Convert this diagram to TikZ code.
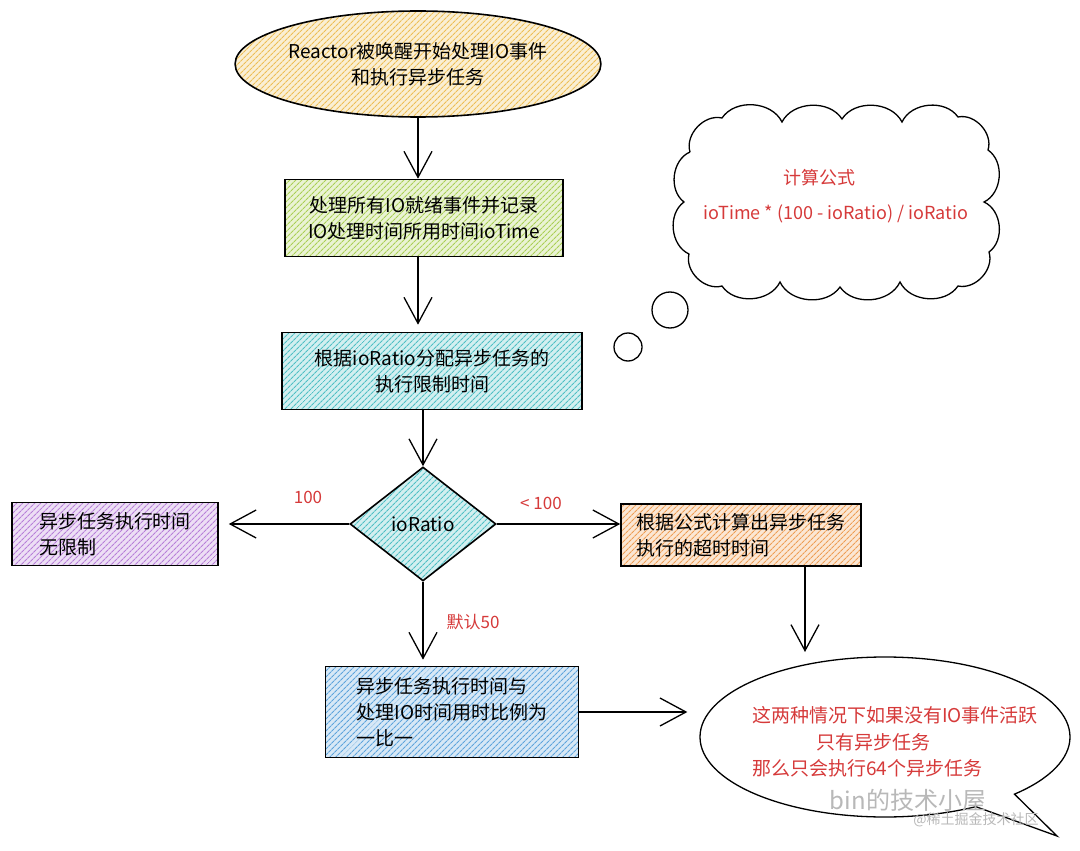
\documentclass[tikz,border=0pt]{standalone}
\usepackage{fontspec}
\setmainfont{Noto Sans CJK SC}
\usepackage{xcolor}
\usetikzlibrary{shapes.geometric}
\usetikzlibrary{shapes.callouts}
\usetikzlibrary{positioning}
\usetikzlibrary{arrows.meta}
\usetikzlibrary{patterns.meta}

\definecolor{hyellow}{HTML}{EDBE55}
\definecolor{hgreen}{HTML}{AACF55}
\definecolor{hteal}{HTML}{4FBFC4}
\definecolor{hpurple}{HTML}{B77FD8}
\definecolor{horange}{HTML}{EE9E55}
\definecolor{hblue}{HTML}{5EA4DC}
\definecolor{notered}{HTML}{D63A3A}

\tikzset{
	hatched/.style = {draw = black, line width = 1.6pt, preaction = {fill = #1!25}, pattern = {Lines[angle = 45, distance = 4pt, line width = 1.2pt]}, pattern color = #1},
	flow/.style = {line width = 1.3pt, -{Straight Barb[length = 26pt, width = 28pt, line width = 1.3pt]}},
	note/.style = {text = notered, font = \fontsize{17}{22}\selectfont},
	body/.style = {font = \fontsize{19}{26}\selectfont}
}

\begin{document}
\begin{tikzpicture}[x = 1pt, y = -1pt]
		\fill [white] (0, 0) rectangle (1080, 851);
		\useasboundingbox (0, 0) rectangle (1080, 851);

		% main flow
		\node [hatched = hyellow, ellipse, body, align = center, minimum width = 314pt, minimum height = 106pt, inner sep = 0] (wake) at (418, 64) {Reactor被唤醒开始处理IO事件\\和执行异步任务};
		\node [hatched = hgreen, rectangle, body, align = center, minimum width = 278pt, minimum height = 77pt] (ioready) at (424, 218) {处理所有IO就绪事件并记录\\IO处理时间所用时间ioTime};
		\node [hatched = hteal, rectangle, body, align = center, minimum width = 300pt, minimum height = 77pt] (budget) at (432, 371) {根据ioRatio分配异步任务的\\执行限制时间};
		\node [hatched = hteal, diamond, body, minimum width = 146pt, minimum height = 114pt, inner sep = 0] (ratio) at (423, 524) {ioRatio};

		% branches
		\node [hatched = hpurple, rectangle, body, align = left, minimum width = 206pt, minimum height = 63pt] (nolimit) at (115, 534) {异步任务执行时间\\无限制};
		\node [hatched = horange, rectangle, body, align = left, minimum width = 240pt, minimum height = 62pt] (timeout) at (741, 535) {根据公式计算出异步任务\\执行的超时时间};
		\node [hatched = hblue, rectangle, body, align = left, minimum width = 253pt, minimum height = 91pt] (share) at (452, 712) {异步任务执行时间与\\处理IO时间用时比例为\\一比一};

		% thought cloud
		\draw [line width = 1.3pt] (690, 152) to[bend left = 60] (722, 118) to[bend left = 60] (782, 122) to[bend left = 60] (842, 119)
			to[bend left = 60] (902, 122) to[bend left = 60] (958, 117) to[bend left = 60] (988, 150) to[bend left = 60] (984, 202)
			to[bend left = 60] (989, 252) to[bend left = 60] (958, 286) to[bend left = 60] (900, 282) to[bend left = 60] (840, 287)
			to[bend left = 60] (780, 282) to[bend left = 60] (722, 286) to[bend left = 60] (689, 254) to[bend left = 60] (684, 202)
			to[bend left = 60] (690, 152);
		\node [note, align = center, font = \fontsize{18}{35}\selectfont] (formula) at (836, 196) {计算公式\hspace*{34pt}\\ioTime * (100 - ioRatio) / ioRatio};
		\node [circle, draw, line width = 1.3pt, minimum size = 36pt] (puff1) at (670, 310) {};
		\node [circle, draw, line width = 1.3pt, minimum size = 28pt] (puff2) at (628, 347) {};

		% speech bubble
		\node [ellipse callout, draw, line width = 1.3pt, minimum width = 370pt, minimum height = 160pt, callout absolute pointer = {(1057, 836)}] (result) at (885, 737) {};
		\node [note, align = left, font = \fontsize{19}{26.5}\selectfont] (resultt) at (895, 742) {这两种情况下如果没有IO事件活跃\\\hspace*{64pt}只有异步任务\\那么只会执行64个异步任务};

		% labels
		\node [note] (full) at (308, 497) {100};
		\node [note] (less) at (541, 503) {< 100};
		\node [note] (default) at (473, 622) {默认50};

		% watermark
		\node [text = black!28, font = \fontsize{24}{24}\selectfont] (mark) at (908, 800) {bin的技术小屋};
		\node [text = black!28, font = \fontsize{14}{14}\selectfont] (site) at (976, 820) {@稀土掘金技术社区};

		% connectors
		\coordinate (hit) at (805, 652);
		\draw [flow] (wake.south) -- (wake.south |- ioready.north);
		\draw [flow, shorten > = 7pt] (ioready.south -| wake.south) -- (wake.south |- budget.north);
		\draw [flow] (budget.south -| ratio.north) -- (ratio.north);
		\draw [flow, shorten > = 10pt] (ratio.west) -- (ratio.west -| nolimit.east);
		\draw [flow] (ratio.east) -- (ratio.east -| timeout.west);
		\draw [flow, shorten > = 6pt] (ratio.south) -- (ratio.south |- share.north);
		\draw [flow] (timeout.south -| hit) -- (hit);
		\draw [flow, shorten > = 12pt] (share.east) -- (share.east -| result.west);
	\end{tikzpicture}
\end{document}
